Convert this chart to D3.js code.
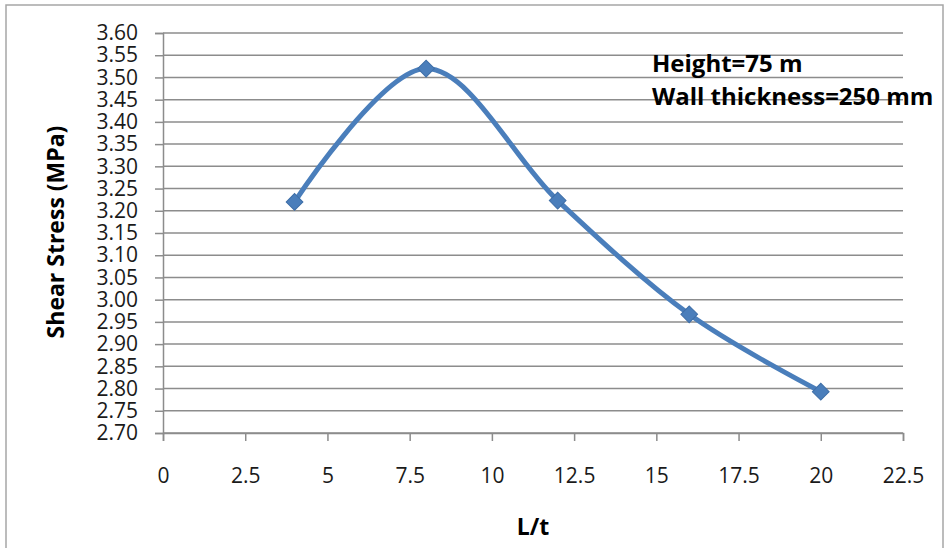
<!DOCTYPE html>
<html>
<head>
<meta charset="utf-8">
<script src="https://cdn.jsdelivr.net/npm/d3@7"></script>
<style>
  body { margin: 0; background: #fff; }
  svg { display: block; font-family: "Open Sans", sans-serif; }
</style>
</head>
<body>
<svg class="visual" width="945" height="548"></svg>
<script>
const svg = d3.select(".visual");

// Chart data
const ratioLt = [4, 8, 12, 16, 20];
const shearStress = [3.22, 3.52, 3.223, 2.967, 2.793];
const xTicks = [0, 2.5, 5, 7.5, 10, 12.5, 15, 17.5, 20, 22.5];
const yTicks = d3.range(2.70, 3.6001, 0.05);
const notes = ["Height=75 m", "Wall thickness=250 mm"];

// Plot area
const plot = {left: 163, top: 33, right: 903, bottom: 433};

const x = d3.scaleLinear().domain([0, 22.5]).range([plot.left, plot.right]);
const y = d3.scaleLinear().domain([2.70, 3.60]).range([plot.bottom, plot.top]);

const gridColor = "#8c8c8c";
const lineColor = "#4a7ebb";

// Chart frame
svg.append("rect")
  .attr("x", 6).attr("y", 5)
  .attr("width", 937).attr("height", 560)
  .attr("fill", "none")
  .attr("stroke", "#a6a6a6")
  .attr("stroke-width", 1.5);

// Horizontal gridlines
svg.append("g")
  .selectAll("line")
  .data(yTicks)
  .join("line")
  .attr("x1", plot.left).attr("x2", plot.right)
  .attr("y1", d => y(d)).attr("y2", d => y(d))
  .attr("stroke", gridColor)
  .attr("stroke-width", 1.5);

// Y axis
const yAxis = svg.append("g")
  .attr("transform", `translate(${plot.left},0)`)
  .call(d3.axisLeft(y).tickValues(yTicks).tickFormat(d3.format(".2f")).tickSize(8).tickPadding(17));

// X axis
const xAxis = svg.append("g")
  .attr("transform", `translate(0,${plot.bottom})`)
  .call(d3.axisBottom(x).tickValues(xTicks).tickFormat(d => d).tickSize(8).tickPadding(27));

[yAxis, xAxis].forEach(a => {
  a.select(".domain").attr("stroke", gridColor).attr("stroke-width", 1.5);
  a.selectAll(".tick line").attr("stroke", gridColor).attr("stroke-width", 1.5);
  a.selectAll(".tick text")
    .attr("fill", "#1a1a1a")
    .style("font-family", "'Open Sans', sans-serif")
    .style("font-size", "21px");
});

// Axis titles
svg.append("text")
  .attr("transform", `translate(64,232) rotate(-90)`)
  .attr("text-anchor", "middle")
  .style("font-size", "23px")
  .style("font-weight", "bold")
  .text("Shear Stress (MPa)");

svg.append("text")
  .attr("x", 533).attr("y", 535)
  .attr("text-anchor", "middle")
  .style("font-size", "23px")
  .style("font-weight", "bold")
  .text("L/t");

// Annotation
svg.append("g")
  .selectAll("text")
  .data(notes)
  .join("text")
  .attr("x", 652)
  .attr("y", (d, i) => 72 + i * 33)
  .style("font-size", "24px")
  .style("font-weight", "bold")
  .text(d => d);

// Smoothed series line
const points = ratioLt.map((d, i) => [d, shearStress[i]]);

const line = d3.line()
  .x(d => x(d[0]))
  .y(d => y(d[1]))
  .curve(d3.curveCardinal.tension(0));

svg.append("path")
  .datum(points)
  .attr("d", line)
  .attr("fill", "none")
  .attr("stroke", lineColor)
  .attr("stroke-width", 5)
  .attr("stroke-linecap", "round");

// Diamond markers
svg.append("g")
  .selectAll("path")
  .data(points)
  .join("path")
  .attr("d", d3.symbol(d3.symbolSquare, 140))
  .attr("transform", d => `translate(${x(d[0])},${y(d[1])}) rotate(45)`)
  .attr("fill", lineColor)
  .attr("stroke", "#3f6fa8")
  .attr("stroke-width", 1);
</script>
</body>
</html>
